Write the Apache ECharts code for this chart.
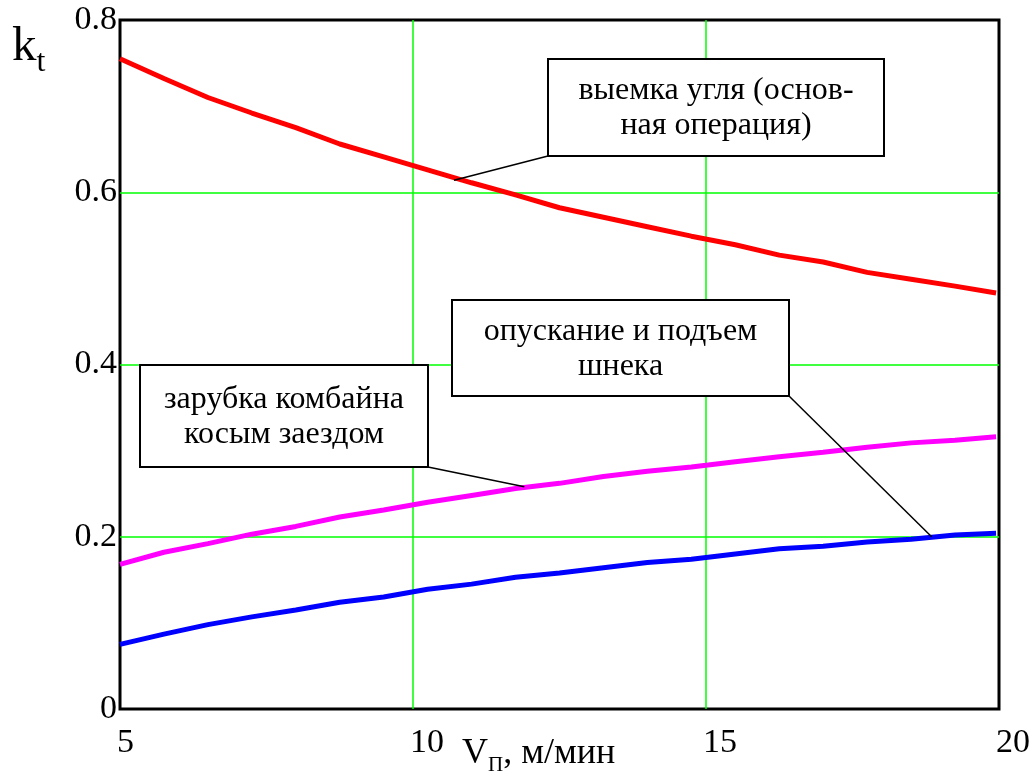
<!DOCTYPE html>
<html>
<head>
<meta charset="utf-8">
<script src="https://cdn.jsdelivr.net/npm/echarts@6/dist/echarts.min.js"></script>
<style>
html,body{margin:0;padding:0;background:#fff;}
#main{width:1033px;height:776px;}
</style>
</head>
<body>
<div id="main"></div>
<script>
// ---- data ----
const xValues = [5, 5.75, 6.5, 7.25, 8, 8.75, 9.5, 10.25, 11, 11.75, 12.5, 13.25, 14, 14.75, 15.5, 16.25, 17, 17.75, 18.5, 19.25, 19.95];
const coalCutting = [0.755, 0.732, 0.710, 0.692, 0.675, 0.656, 0.641, 0.626, 0.611, 0.597, 0.582, 0.571, 0.560, 0.549, 0.539, 0.527, 0.519, 0.507, 0.499, 0.491, 0.483];
const sumping = [0.168, 0.182, 0.192, 0.203, 0.212, 0.223, 0.231, 0.240, 0.248, 0.256, 0.262, 0.270, 0.276, 0.281, 0.287, 0.293, 0.298, 0.304, 0.309, 0.312, 0.316];
const drumLift = [0.075, 0.087, 0.098, 0.107, 0.115, 0.124, 0.130, 0.139, 0.145, 0.153, 0.158, 0.164, 0.170, 0.174, 0.180, 0.186, 0.189, 0.194, 0.197, 0.202, 0.204];
const xTicks = [5, 10, 15, 20];
const yTicks = [0, 0.2, 0.4, 0.6, 0.8];
const labels = {
  coal: 'выемка угля (основ-\nная операция)',
  drum: 'опускание и подъем\nшнека',
  sump: 'зарубка комбайна\nкосым заездом'
};
// points on the curves where the leader lines end
const anchorCoal = [10.7, 0.614];
const anchorDrum = [18.85, 0.200];
const anchorSump = [11.9, 0.258];

const FONT = '"Liberation Serif", "Times New Roman", serif';
const chart = echarts.init(document.getElementById('main'), null, {renderer: 'canvas'});

function pts(vals){ return xValues.map((x, i) => [x, vals[i]]); }

const option = {
  backgroundColor: '#fff',
  animation: false,
  grid: {left: 120, right: 33, top: 20, bottom: 67, show: true, borderColor: '#000', borderWidth: 3, backgroundColor: 'transparent'},
  xAxis: {
    type: 'value', min: xTicks[0], max: xTicks[xTicks.length - 1], interval: 5,
    axisLine: {show: false}, axisTick: {show: false},
    splitLine: {show: true, showMinLine: false, showMaxLine: false, lineStyle: {color: '#00ff00', width: 1.5}},
    axisLabel: {color: '#000', fontFamily: FONT, fontSize: 34, align: 'left', margin: 17, padding: [0, 0, 0, -3]}
  },
  yAxis: {
    type: 'value', min: yTicks[0], max: yTicks[yTicks.length - 1], interval: 0.2,
    axisLine: {show: false}, axisTick: {show: false},
    splitLine: {show: true, showMinLine: false, showMaxLine: false, lineStyle: {color: '#00ff00', width: 1.5}},
    axisLabel: {color: '#000', fontFamily: FONT, fontSize: 34, margin: 3,
      formatter: v => String(Math.round(v * 10) / 10)}
  },
  series: [
    {type: 'line', data: pts(coalCutting), showSymbol: false, lineStyle: {color: '#ff0000', width: 5}, itemStyle: {color: '#ff0000'}, z: 3},
    {type: 'line', data: pts(sumping), showSymbol: false, lineStyle: {color: '#ff00ff', width: 5}, itemStyle: {color: '#ff00ff'}, z: 3},
    {type: 'line', data: pts(drumLift), showSymbol: false, lineStyle: {color: '#0000ff', width: 5}, itemStyle: {color: '#0000ff'}, z: 3}
  ]
};
chart.setOption(option);

function box(x, y, w, h, text){
  return {
    type: 'group', x: x, y: y, z: 20,
    children: [
      {type: 'rect', shape: {x: 0, y: 0, width: w, height: h}, style: {fill: '#fff', stroke: '#000', lineWidth: 2}},
      {type: 'text', x: w / 2, y: h / 2 + 1, style: {text: text, fill: '#000', font: '32px ' + FONT, align: 'center', verticalAlign: 'middle', lineHeight: 35}}
    ]
  };
}
function leader(from, anchor){
  const p = chart.convertToPixel({gridIndex: 0}, anchor);
  return {type: 'line', z: 19, shape: {x1: from[0], y1: from[1], x2: p[0], y2: p[1]}, style: {stroke: '#000', lineWidth: 1.5}};
}

chart.setOption({
  graphic: [
    leader([548, 156], anchorCoal),
    leader([789, 396], anchorDrum),
    leader([428, 467], anchorSump),
    box(548, 59, 336, 97, labels.coal),
    box(452, 300, 337, 96, labels.drum),
    box(140, 365, 288, 102, labels.sump),
    {type: 'text', left: 12, top: 23, z: 30, style: {
      text: '{k|k}{s|t}', rich: {
        k: {fontFamily: FONT, fontSize: 49, fill: '#000', verticalAlign: 'bottom'},
        s: {fontFamily: FONT, fontSize: 32, fill: '#000', padding: [0, 0, -7, 0], verticalAlign: 'bottom'}
      }}},
    {type: 'text', left: 462, top: 736, z: 30, style: {
      text: '{a|V}{b|П}{a|, м/мин}', rich: {
        a: {fontFamily: FONT, fontSize: 36, fill: '#000', verticalAlign: 'bottom'},
        b: {fontFamily: FONT, fontSize: 21, fill: '#000', padding: [0, 0, -4, 0], verticalAlign: 'bottom'}
      }}}
  ]
});
</script>
</body>
</html>
